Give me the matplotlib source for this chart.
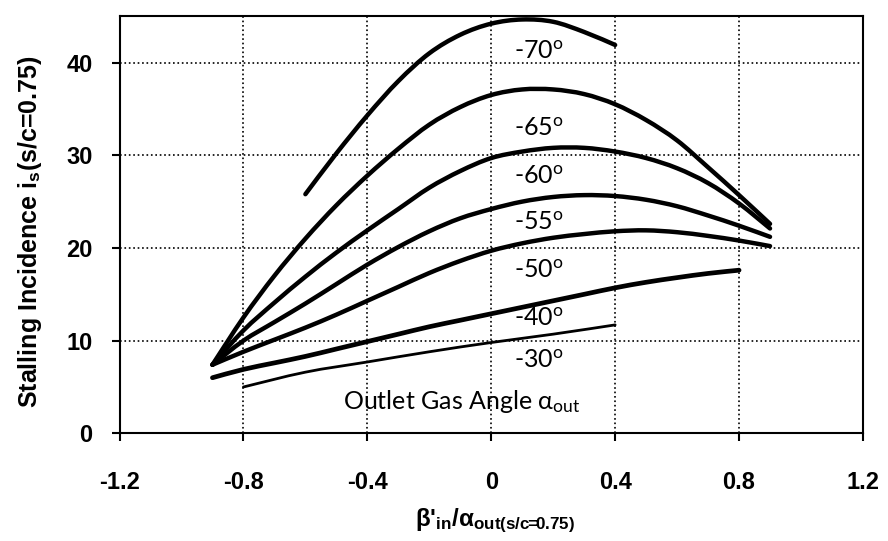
import matplotlib
matplotlib.use("Agg")
import matplotlib.pyplot as plt
from matplotlib.path import Path
from matplotlib.patches import PathPatch

plt.rcParams['axes.unicode_minus'] = False
plt.rcParams['mathtext.fontset'] = 'custom'
plt.rcParams['mathtext.rm'] = 'Lato'
plt.rcParams['mathtext.it'] = 'Lato'
plt.rcParams['mathtext.bf'] = 'Liberation Sans:bold'

# curves: beta'_in/alpha_out vs stalling incidence
x70 = [-0.6, -0.5, -0.4, -0.3, -0.2, -0.1, 0.0, 0.1, 0.2, 0.3, 0.4]
y70 = [25.8, 30.2, 34.3, 38.0, 41.0, 43.0, 44.2, 44.65, 44.4, 43.3, 41.9]

x65 = [-0.9, -0.8, -0.7, -0.6, -0.5, -0.4, -0.3, -0.2, -0.1, 0.0, 0.1, 0.2, 0.3, 0.4, 0.5, 0.6, 0.7, 0.8, 0.9]
y65 = [7.4, 12.5, 17.0, 21.0, 24.6, 27.8, 30.7, 33.3, 35.2, 36.5, 37.1, 37.1, 36.6, 35.5, 33.8, 31.6, 28.7, 25.7, 22.6]

x60 = [-0.9, -0.8, -0.7, -0.6, -0.5, -0.4, -0.3, -0.2, -0.1, 0.0, 0.1, 0.2, 0.3, 0.4, 0.5, 0.6, 0.7, 0.8, 0.9]
y60 = [7.4, 11.1, 14.1, 16.9, 19.5, 21.9, 24.2, 26.5, 28.3, 29.7, 30.4, 30.8, 30.8, 30.4, 29.7, 28.6, 27.0, 24.8, 22.1]

x55 = [-0.9, -0.8, -0.7, -0.6, -0.5, -0.4, -0.3, -0.2, -0.1, 0.0, 0.1, 0.2, 0.3, 0.4, 0.5, 0.6, 0.7, 0.8, 0.9]
y55 = [7.4, 10.0, 12.0, 14.0, 16.1, 18.2, 20.1, 21.8, 23.2, 24.2, 25.0, 25.5, 25.7, 25.6, 25.2, 24.5, 23.5, 22.4, 21.2]

x50 = [-0.9, -0.8, -0.7, -0.6, -0.5, -0.4, -0.3, -0.2, -0.1, 0.0, 0.1, 0.2, 0.3, 0.4, 0.5, 0.6, 0.7, 0.8, 0.9]
y50 = [7.4, 8.8, 10.1, 11.4, 12.8, 14.3, 15.8, 17.3, 18.6, 19.7, 20.5, 21.1, 21.5, 21.8, 21.9, 21.7, 21.3, 20.8, 20.2]

x40 = [-0.9, -0.8, -0.7, -0.6, -0.5, -0.4, -0.3, -0.2, -0.1, 0.0, 0.1, 0.2, 0.3, 0.4, 0.5, 0.6, 0.7, 0.8]
y40 = [6.0, 6.9, 7.6, 8.3, 9.1, 9.9, 10.7, 11.5, 12.2, 12.9, 13.6, 14.3, 15.0, 15.7, 16.3, 16.8, 17.25, 17.6]

x30 = [-0.8, -0.6, -0.4, -0.2, 0.0, 0.2, 0.4]
y30 = [5.0, 6.6, 7.7, 8.8, 9.8, 10.7, 11.7]

angle_labels = ['-70', '-65', '-60', '-55', '-50', '-40', '-30']
label_y = [41.2, 32.9, 27.7, 22.8, 17.6, 12.4, 7.9]

xticks = [-1.2, -0.8, -0.4, 0, 0.4, 0.8, 1.2]
xticklabels = ['-1.2', '-0.8', '-0.4', '0', '0.4', '0.8', '1.2']
yticks = [0, 10, 20, 30, 40]


def smooth_line(ax, xs, ys, lw):
    # Excel style smoothed line: bezier segments through the read points
    pts = list(zip(xs, ys))
    n = len(pts)
    verts = [pts[0]]
    codes = [Path.MOVETO]
    for i in range(n - 1):
        p0 = pts[max(i - 1, 0)]
        p1 = pts[i]
        p2 = pts[i + 1]
        p3 = pts[min(i + 2, n - 1)]
        c1 = (p1[0] + (p2[0] - p0[0]) / 6, p1[1] + (p2[1] - p0[1]) / 6)
        c2 = (p2[0] - (p3[0] - p1[0]) / 6, p2[1] - (p3[1] - p1[1]) / 6)
        verts += [c1, c2, p2]
        codes += [Path.CURVE4] * 3
    patch = PathPatch(Path(verts, codes), fill=False, edgecolor='black', lw=lw,
                      capstyle='round', joinstyle='round', zorder=3)
    ax.add_patch(patch)


fig = plt.figure(figsize=(8.88, 5.41), dpi=100)
ax = fig.add_axes([0.1346, 0.199, 0.8372, 0.771])

curves = [(x70, y70, 3.2), (x65, y65, 3.2), (x60, y60, 3.2), (x55, y55, 3.2),
          (x50, y50, 3.2), (x40, y40, 3.4), (x30, y30, 2.0)]
for xs, ys, lw in curves:
    smooth_line(ax, xs, ys, lw)

# angle labels next to the curves
for lab, yl in zip(angle_labels, label_y):
    ax.text(0.073, yl, lab + r'$^{\mathrm{o}}$', fontsize=18, family='Lato',
            ha='left', va='center', zorder=4)
ax.text(-0.48, 3.4, r'Outlet Gas Angle α$_{\mathrm{out}}$', fontsize=18, family='Lato',
        ha='left', va='center', zorder=4)

ax.set_xlim(-1.2, 1.2)
ax.set_ylim(0, 45)
ax.set_xticks(xticks)
ax.set_xticklabels(xticklabels)
ax.set_yticks(yticks)
ax.grid(True, color='black', linestyle=':', linewidth=1.2)
ax.set_axisbelow(True)

for s in ax.spines.values():
    s.set_linewidth(1.5)
ax.tick_params(direction='out', length=5.8, width=1.5)
ax.tick_params(axis='x', pad=21)
ax.tick_params(axis='y', pad=13.7)
for t in ax.get_xticklabels() + ax.get_yticklabels():
    t.set_fontsize(17)
    t.set_fontweight('bold')
    t.set_family('Liberation Sans')

fig.text(0.034, 0.572, r'Stalling Incidence i$_{\mathbf{s}}$(s/c=0.75)', rotation=90,
         fontsize=18, fontweight='bold', family='Liberation Sans', ha='center', va='center')
fig.text(0.557, 0.037, r"β'$_{\mathbf{in}}$/α$_{\mathbf{out(s/c\!\!=\!\!0.75)}}$",
         fontsize=17.5, fontweight='bold', family='Liberation Sans', ha='center', va='center')

fig.savefig('out.png', dpi=100)
